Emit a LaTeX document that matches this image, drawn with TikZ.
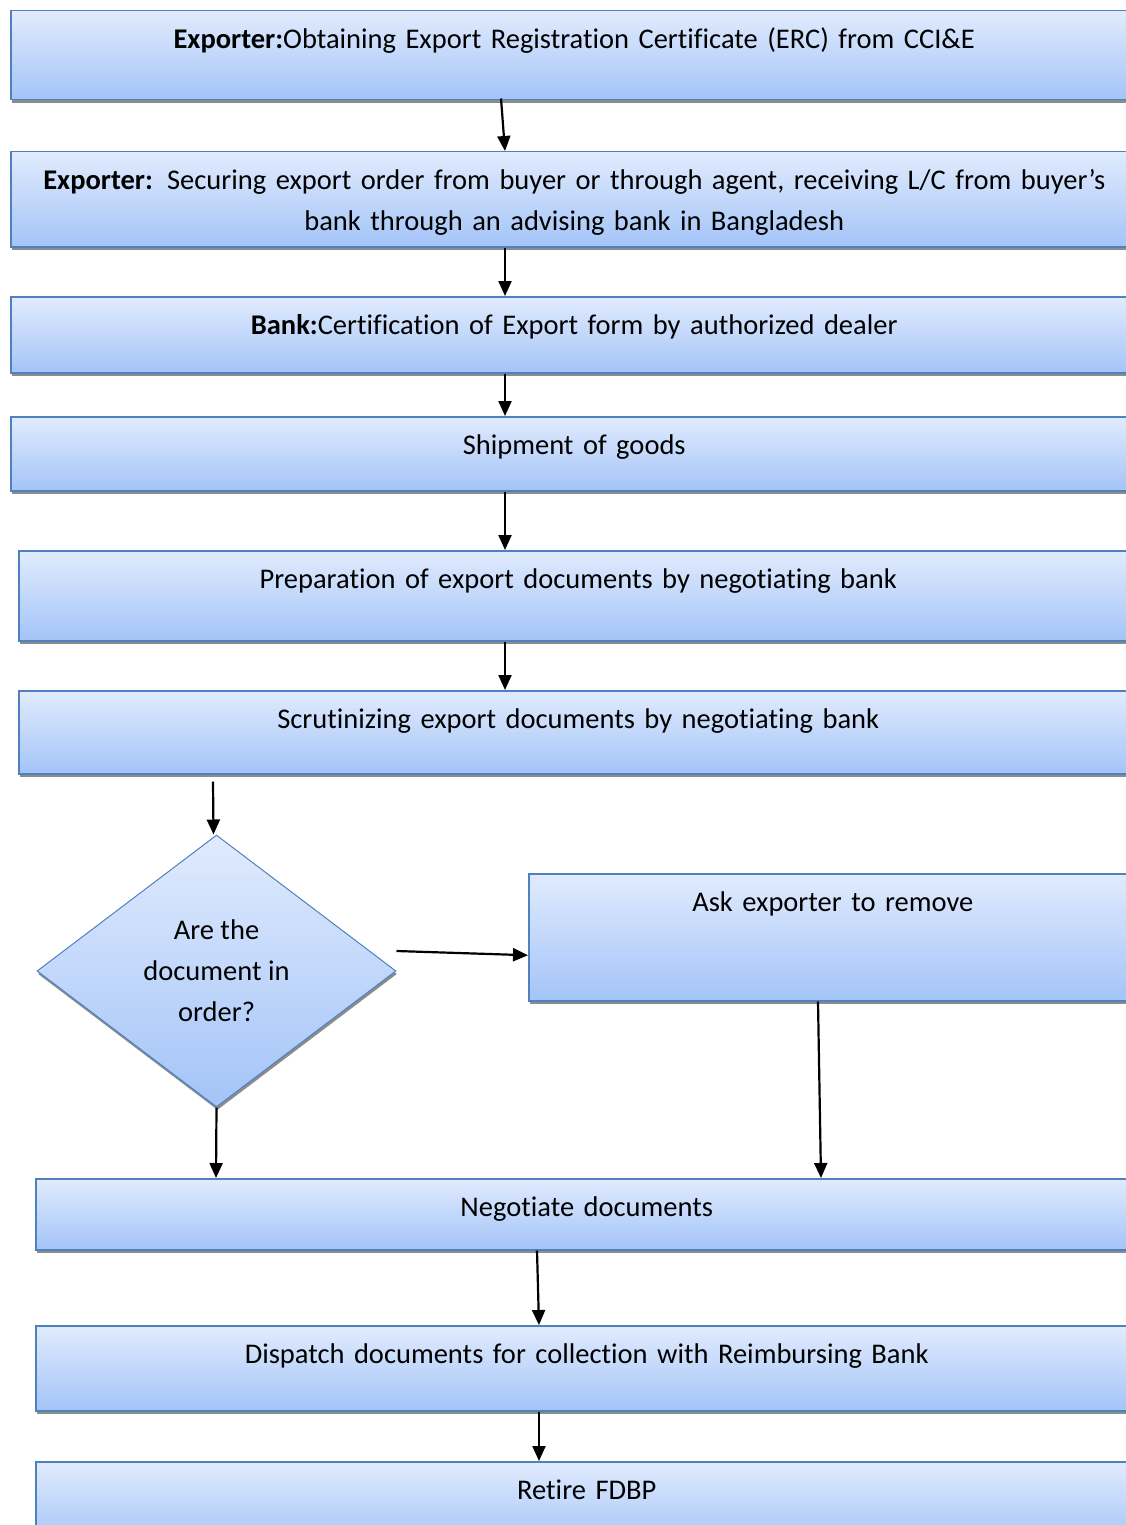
\documentclass[tikz,border=0pt]{standalone}
\usepackage{fontspec}
\setmainfont{Carlito}[Ligatures=NoCommon]
\usetikzlibrary{arrows.meta,shapes.geometric,shadows}

\definecolor{boxline}{HTML}{4F81BD}
\definecolor{boxtop}{HTML}{E1EBFD}
\definecolor{boxbottom}{HTML}{A3C4F8}

\tikzset{
	stepbox/.style={draw=boxline, line width=1.5pt, top color=boxtop, bottom color=boxbottom,
		anchor=north west, align=center, inner xsep=0pt, inner ysep=7pt, text height=31pt,
		drop shadow={shadow xshift=1pt, shadow yshift=-3pt, fill=black!45, opacity=1}},
	decision/.style={diamond, draw=boxline, line width=1pt, top color=boxtop, bottom color=boxbottom,
		minimum width=359pt, minimum height=272pt, inner sep=0pt, align=center,
		drop shadow={shadow xshift=1pt, shadow yshift=-3pt, fill=black!45, opacity=1}},
	flow/.style={->, line width=2.2pt}
}

\begin{document}
\begin{tikzpicture}[>={Triangle[length=15pt,width=13pt]}, x=1pt, y=-1pt, font=\fontsize{28.5}{41}\selectfont]
	
	\useasboundingbox (0,0) rectangle (1126,1525);
	\clip (0,0) rectangle (1126,1525);
	
	% steps
	\node[stepbox, text width=1127pt, text depth=44pt] (erc) at (10,10)
	{\textbf{Exporter:}Obtaining Export Registration Certificate (ERC) from CCI\&E};
	\node[stepbox, text width=1127pt, text depth=50pt] (order) at (10,151)
	{\textbf{Exporter:} Securing export order from buyer or through agent, receiving L/C from buyer’s\\bank through an advising bank in Bangladesh};
	\node[stepbox, text width=1127pt, text depth=31pt] (certify) at (10,296)
	{\textbf{Bank:}Certification of Export form by authorized dealer};
	\node[stepbox, text width=1127pt, text depth=29pt] (ship) at (10,416)
	{Shipment of goods};
	\node[stepbox, text width=1119pt, text depth=45pt] (prep) at (18,550)
	{Preparation of export documents by negotiating bank};
	\node[stepbox, text width=1119pt, text depth=38pt] (scrut) at (18,690)
	{Scrutinizing export documents by negotiating bank};
	
	% check
	\node[decision] (check) at (216.5,971) {Are the\\document in\\order?};
	\node[stepbox, text width=608pt, text depth=82pt] (ask) at (528,873)
	{Ask exporter to remove};
	
	\node[stepbox, text width=1102pt, text depth=26pt] (nego) at (35,1178)
	{Negotiate documents};
	\node[stepbox, text width=1102pt, text depth=40pt] (disp) at (35,1325)
	{Dispatch documents for collection with Reimbursing Bank};
	\node[stepbox, text width=1102pt, text depth=38pt] (fdbp) at (35,1461)
	{Retire FDBP};
	
	% arrows
	\draw[flow] ([xshift=491pt,yshift=2pt]erc.south west) -- ([xshift=495pt]order.north west);
	\draw[flow] ([xshift=495pt]order.south west) -- ([xshift=495pt]certify.north west);
	\draw[flow] ([xshift=495pt]certify.south west) -- ([xshift=495pt]ship.north west);
	\draw[flow] ([xshift=495pt]ship.south west) -- ([xshift=487pt]prep.north west);
	\draw[flow] ([xshift=487pt]prep.south west) -- ([xshift=487pt]scrut.north west);
	\draw[flow] ([xshift=195pt,yshift=-7pt]scrut.south west) -- ([xshift=-3pt]check.north);
	\draw[flow] ([yshift=20pt]check.east) -- ([yshift=-18pt]ask.west);
	\draw[flow] ([xshift=290pt]ask.south west) -- ([xshift=786pt]nego.north west);
	\draw[flow] (check.south) -- ([xshift=181pt]nego.north west);
	\draw[flow] ([xshift=502pt]nego.south west) -- ([xshift=504pt]disp.north west);
	\draw[flow] ([xshift=504pt]disp.south west) -- ([xshift=504pt]fdbp.north west);

\end{tikzpicture}
\end{document}
